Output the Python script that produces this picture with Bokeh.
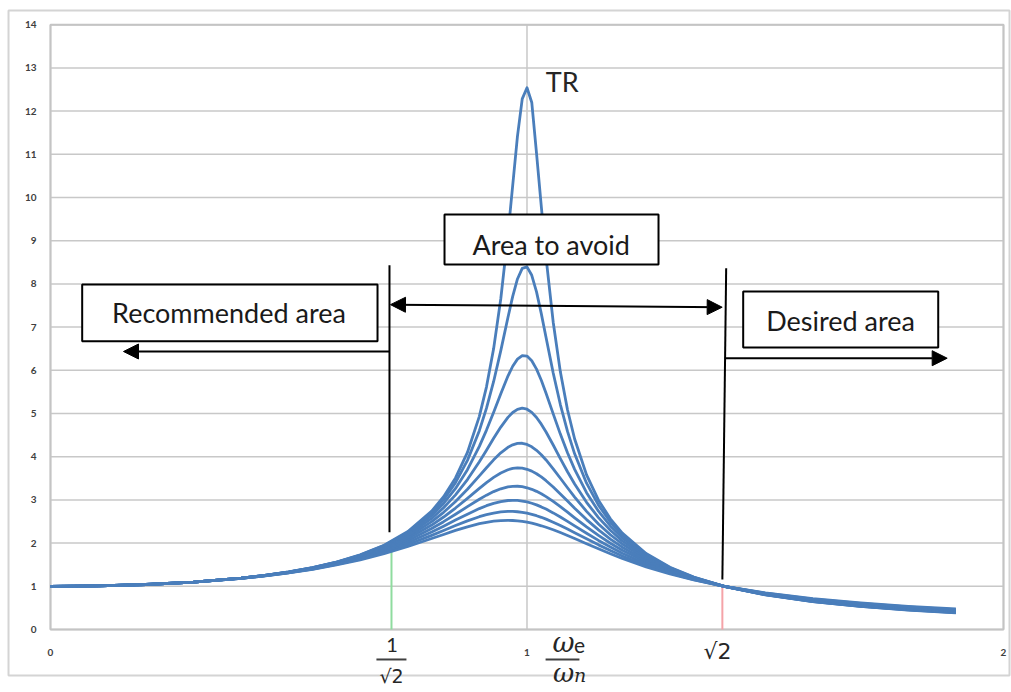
from bokeh.plotting import figure
from bokeh.models import Range1d, Arrow, NormalHead
from bokeh.core.properties import value
from bokeh.embed import file_html
from bokeh.resources import INLINE

# ---------------- data ----------------
FREQ_RATIO = [0.0, 0.1, 0.2, 0.3, 0.4, 0.45, 0.5, 0.55, 0.6, 0.65,
              0.7, 0.75, 0.8, 0.825, 0.85, 0.875, 0.9, 0.915, 0.93, 0.945,
              0.96, 0.97, 0.98, 0.99, 1.0, 1.01, 1.02, 1.03, 1.04, 1.055,
              1.07, 1.085, 1.1, 1.125, 1.15, 1.175, 1.2, 1.25, 1.3, 1.35,
              1.414, 1.5, 1.6, 1.7, 1.8, 1.9]

TR_004 = [1.0, 1.010, 1.042, 1.099, 1.190, 1.253, 1.333, 1.432, 1.560, 1.727,
          1.952, 2.269, 2.740, 3.073, 3.508, 4.098, 4.934, 5.618, 6.502, 7.656,
          9.139, 10.283, 11.420, 12.284, 12.540, 12.200, 11.019, 9.793, 8.611, 7.114,
          5.964, 5.086, 4.409, 3.580, 2.994, 2.562, 2.231, 1.759, 1.441, 1.212,
          1.0, 0.802, 0.644, 0.533, 0.450, 0.387]
TR_006 = [1.0, 1.010, 1.042, 1.099, 1.190, 1.253, 1.331, 1.430, 1.557, 1.721,
          1.942, 2.248, 2.696, 3.005, 3.400, 3.915, 4.602, 5.124, 5.742, 6.456,
          7.224, 7.712, 8.114, 8.360, 8.393, 8.199, 7.816, 7.313, 6.759, 5.939,
          5.208, 4.586, 4.067, 3.387, 2.878, 2.488, 2.182, 1.737, 1.431, 1.208,
          1.0, 0.805, 0.648, 0.537, 0.455, 0.391]
TR_008 = [1.0, 1.010, 1.042, 1.098, 1.189, 1.252, 1.330, 1.428, 1.552, 1.713,
          1.927, 2.220, 2.639, 2.919, 3.266, 3.699, 4.238, 4.616, 5.030, 5.460,
          5.867, 6.094, 6.259, 6.342, 6.329, 6.220, 6.027, 5.769, 5.470, 4.992,
          4.523, 4.091, 3.706, 3.167, 2.738, 2.397, 2.121, 1.708, 1.417, 1.203,
          1.0, 0.808, 0.653, 0.543, 0.461, 0.398]
TR_010 = [1.0, 1.010, 1.042, 1.098, 1.189, 1.251, 1.328, 1.425, 1.547, 1.704,
          1.909, 2.186, 2.571, 2.819, 3.117, 3.471, 3.882, 4.151, 4.425, 4.686,
          4.910, 5.023, 5.096, 5.123, 5.099, 5.026, 4.908, 4.753, 4.571, 4.270,
          3.957, 3.652, 3.367, 2.944, 2.590, 2.296, 2.052, 1.675, 1.401, 1.197,
          1.0, 0.812, 0.659, 0.550, 0.468, 0.406]
TR_012 = [1.0, 1.010, 1.042, 1.098, 1.188, 1.250, 1.326, 1.421, 1.540, 1.692,
          1.888, 2.148, 2.496, 2.713, 2.963, 3.247, 3.556, 3.745, 3.927, 4.089,
          4.217, 4.275, 4.307, 4.311, 4.285, 4.230, 4.149, 4.046, 3.925, 3.720,
          3.501, 3.281, 3.066, 2.735, 2.444, 2.193, 1.979, 1.638, 1.383, 1.189,
          1.0, 0.817, 0.667, 0.559, 0.478, 0.415]
TR_014 = [1.0, 1.010, 1.042, 1.098, 1.187, 1.248, 1.323, 1.416, 1.532, 1.679,
          1.865, 2.106, 2.417, 2.604, 2.812, 3.037, 3.268, 3.401, 3.522, 3.624,
          3.698, 3.728, 3.740, 3.734, 3.709, 3.666, 3.606, 3.531, 3.444, 3.297,
          3.137, 2.972, 2.807, 2.544, 2.305, 2.092, 1.906, 1.599, 1.364, 1.181,
          1.0, 0.823, 0.675, 0.568, 0.488, 0.425]
TR_016 = [1.0, 1.010, 1.042, 1.098, 1.186, 1.247, 1.321, 1.411, 1.524, 1.664,
          1.840, 2.061, 2.337, 2.496, 2.667, 2.844, 3.016, 3.110, 3.192, 3.257,
          3.300, 3.314, 3.316, 3.305, 3.281, 3.245, 3.198, 3.141, 3.076, 2.965,
          2.843, 2.716, 2.586, 2.376, 2.178, 1.997, 1.834, 1.560, 1.344, 1.173,
          1.0, 0.828, 0.684, 0.579, 0.499, 0.437]
TR_018 = [1.0, 1.010, 1.041, 1.097, 1.185, 1.245, 1.317, 1.406, 1.515, 1.648,
          1.813, 2.015, 2.257, 2.392, 2.532, 2.670, 2.799, 2.866, 2.921, 2.962,
          2.986, 2.991, 2.987, 2.974, 2.952, 2.922, 2.884, 2.838, 2.787, 2.699,
          2.604, 2.503, 2.400, 2.228, 2.062, 1.908, 1.767, 1.522, 1.324, 1.164,
          1.0, 0.835, 0.694, 0.590, 0.511, 0.449]
TR_020 = [1.0, 1.010, 1.041, 1.097, 1.184, 1.243, 1.314, 1.400, 1.505, 1.631,
          1.785, 1.968, 2.180, 2.293, 2.407, 2.515, 2.611, 2.658, 2.696, 2.721,
          2.733, 2.733, 2.726, 2.713, 2.693, 2.666, 2.634, 2.597, 2.555, 2.484,
          2.407, 2.325, 2.241, 2.099, 1.959, 1.827, 1.703, 1.486, 1.305, 1.155,
          1.0, 0.841, 0.704, 0.602, 0.524, 0.462]
TR_022 = [1.0, 1.010, 1.041, 1.097, 1.183, 1.241, 1.310, 1.394, 1.494, 1.614,
          1.756, 1.922, 2.106, 2.200, 2.293, 2.377, 2.449, 2.482, 2.507, 2.522,
          2.527, 2.523, 2.515, 2.501, 2.483, 2.460, 2.432, 2.401, 2.366, 2.308,
          2.244, 2.176, 2.106, 1.986, 1.868, 1.753, 1.645, 1.451, 1.285, 1.146,
          1.0, 0.848, 0.715, 0.614, 0.537, 0.476]

CURVES = [TR_004, TR_006, TR_008, TR_010, TR_012, TR_014, TR_016, TR_018, TR_020, TR_022]

X_TICKS = [0, 1, 2]
Y_TICKS = list(range(15))
X_MIN, X_MAX, Y_MIN, Y_MAX = 0, 2, 0, 14

BOX_TEXTS = ["Area to avoid", "Recommended area", "Desired area"]

# ---------------- figure (the frame spans the whole chart picture) ----------------
p = figure(width=1011, height=692, output_backend="svg", toolbar_location=None,
           x_range=Range1d(-0.10493, 2.01679), y_range=Range1d(-1.4583, 14.5602),
           x_axis_type=None, y_axis_type=None, min_border=0)
p.outline_line_color = None
p.background_fill_color = "white"
p.border_fill_color = "white"

GRID = "#c8c8c8"
TICK_FONT = dict(text_font=value("Lato"), text_font_style="bold", text_font_size="10px",
                 text_color="#404040")

# outer chart frame
p.quad(left=[-0.0881], right=[2.0126], top=[14.329], bottom=[-1.0648],
       fill_color=None, line_color="#d4d4d4", line_width=2)

# grid lines and plot-area outline
p.segment(x0=[X_MIN] * len(Y_TICKS), y0=Y_TICKS, x1=[X_MAX] * len(Y_TICKS), y1=Y_TICKS,
          line_color=GRID, line_width=1.5)
p.segment(x0=X_TICKS, y0=[Y_MIN] * len(X_TICKS), x1=X_TICKS, y1=[Y_MAX] * len(X_TICKS),
          line_color=GRID, line_width=1.5)
p.quad(left=[X_MIN], right=[X_MAX], top=[Y_MAX], bottom=[Y_MIN],
       fill_color=None, line_color="#c4c4c4", line_width=2)

# tick labels
p.text(x=[-0.0294] * len(Y_TICKS), y=Y_TICKS, text=[str(t) for t in Y_TICKS],
       text_align="right", text_baseline="middle", **TICK_FONT)
p.text(x=X_TICKS, y=[-0.532] * len(X_TICKS), text=[str(t) for t in X_TICKS],
       text_align="center", text_baseline="middle", **TICK_FONT)

# coloured markers at 1/sqrt2 and sqrt2
p.segment(x0=[0.7156], y0=[0], x1=[0.7156], y1=[1.9], line_color="#8fdc9f", line_width=2)
p.segment(x0=[1.410], y0=[0], x1=[1.410], y1=[0.98], line_color="#f5a3a8", line_width=2)

# curves
for tr in CURVES:
    p.line(FREQ_RATIO, tr, line_color="#4a7ebb", line_width=2.8, line_join="round")

# black vertical lines
p.segment(x0=[0.7114, 1.418], y0=[8.43, 8.36], x1=[0.7114, 1.410], y1=[2.25, 1.16],
          line_color="black", line_width=2)

# boxes
p.quad(left=[0.8269, 0.0665, 1.4537], right=[1.2760, 0.6863, 1.8630],
       top=[9.606, 7.986, 7.824], bottom=[8.449, 6.674, 6.528],
       fill_color="white", line_color="black", line_width=2)
p.text(x=[1.0508, 0.3746, 1.658], y=[8.92, 7.33, 7.16], text=BOX_TEXTS,
       text_font=value("Lato"), text_font_size="27px", text_color="#1a1a1a",
       text_align="center", text_baseline="middle")

p.text(x=[1.0738], y=[12.69], text=["TR"], text_font=value("Lato"), text_font_size="27px",
       text_color="#262626", text_align="center", text_baseline="middle")

# arrows
head = dict(size=15, fill_color="black", line_color="black")
p.add_layout(Arrow(start=NormalHead(**head), end=NormalHead(**head),
                   x_start=0.7135, y_start=7.52, x_end=1.4096, y_end=7.46,
                   line_color="black", line_width=2))
p.add_layout(Arrow(end=NormalHead(**head), x_start=0.7114, y_start=6.435, x_end=0.1532, y_end=6.435,
                   line_color="black", line_width=2))
p.add_layout(Arrow(end=NormalHead(**head), x_start=1.4166, y_start=6.28, x_end=1.8818, y_end=6.28,
                   line_color="black", line_width=2))

# math labels under the axis
MC = "#262626"
p.text(x=[0.7168], y=[-0.37], text=["1"], text_font=value("Lato"), text_font_size="20px",
       text_color=MC, text_align="center", text_baseline="middle")
p.segment(x0=[0.684, 1.039], y0=[-0.694, -0.694], x1=[0.747, 1.110], y1=[-0.694, -0.694],
          line_color="#404040", line_width=2)
p.text(x=[0.7158], y=[-0.833], text=["√2"], text_font=value("DejaVu Sans"), text_font_size="19px",
       text_color=MC, text_align="center", text_baseline="top")
p.text(x=[1.0766], y=[-0.30], text=["ω"], text_font=value("DejaVu Serif"), text_font_style="italic",
       text_font_size="27px", text_color=MC, text_align="center", text_baseline="middle")
p.text(x=[1.0986], y=[-0.37], text=["e"], text_font=value("Lato"), text_font_size="21px",
       text_color=MC, text_align="left", text_baseline="middle")
p.text(x=[1.0766], y=[-0.671], text=["ω"], text_font=value("DejaVu Serif"), text_font_style="italic",
       text_font_size="26px", text_color=MC, text_align="center", text_baseline="top")
p.text(x=[1.0986], y=[-0.810], text=["n"], text_font=value("DejaVu Serif"), text_font_style="italic",
       text_font_size="19px", text_color=MC, text_align="left", text_baseline="top")
p.text(x=[1.3998], y=[-0.509], text=["√2"], text_font=value("DejaVu Sans"), text_font_size="22px",
       text_color=MC, text_align="center", text_baseline="middle")

open("out.html", "w").write(file_html(p, INLINE))
